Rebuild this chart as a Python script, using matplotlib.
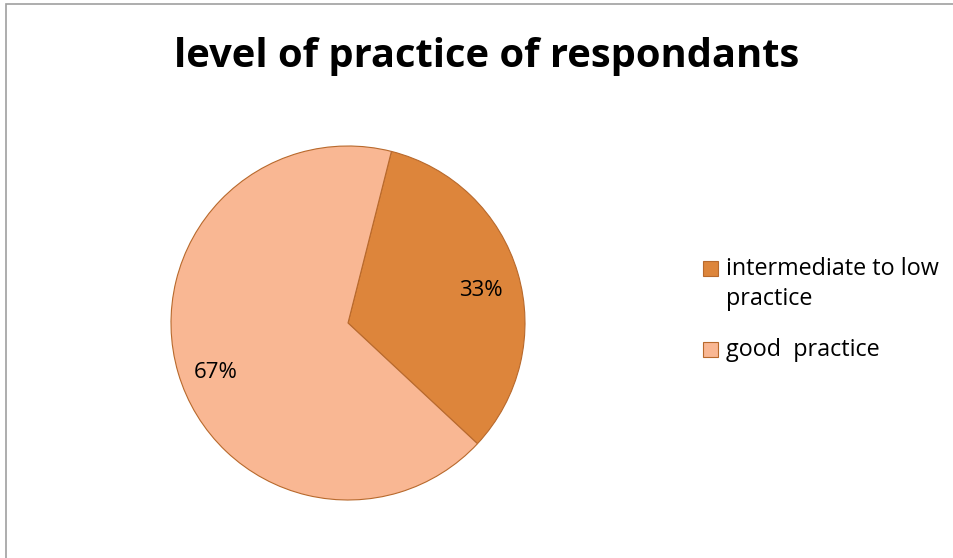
import numpy as np
import matplotlib.pyplot as plt
from matplotlib.patches import Rectangle

categories = ["intermediate to low\npractice", "good  practice"]
shares = [33, 67]
colors = ["#DD853B", "#F9B793"]

W, H = 954, 558
fig = plt.figure(figsize=(W / 100, H / 100), dpi=100)
plt.rcParams["font.family"] = ["Open Sans", "DejaVu Sans"]


def fx(px):
    return px / W


def fy(py):
    return 1 - py / H


# chart frame (cropped on right/bottom in the reference)
fig.patches.append(Rectangle((fx(6), -0.1), 1.2, fy(4) + 0.1, transform=fig.transFigure,
                             fill=False, edgecolor="#A0A0A0", linewidth=1.2))

cx, cy, r = 348, 323, 177
ax = fig.add_axes([fx(cx - r), fy(cy + r), 2 * r / W, 2 * r / H])
wedges, texts, autotexts = ax.pie(
    shares, colors=colors, startangle=75.8, counterclock=False,
    autopct="%1.0f%%", pctdistance=0.78,
    wedgeprops=dict(edgecolor="#B8692C", linewidth=0.8),
    textprops=dict(fontsize=16, color="black"))
ax.set_xlim(-1, 1)
ax.set_ylim(-1, 1)
ax.set_aspect("equal")

# small angular nudge of the % labels, as the spreadsheet placed them
for t, nudge, dist in zip(autotexts, [-2.5, 4.0], [0.775, 0.80]):
    x, y = t.get_position()
    a = np.arctan2(y, x) + np.deg2rad(nudge)
    t.set_position((dist * np.cos(a), dist * np.sin(a)))

fig.text(fx(487), fy(56), "level of practice of respondants", ha="center", va="center",
         fontsize=28.7, fontweight="bold")

# legend: marker aligned with first text line like the spreadsheet original
legend_baselines = [275, 356]
for wedge, label, base in zip(wedges, categories, legend_baselines):
    fig.patches.append(Rectangle((fx(703), fy(base + 1)), 15 / W, 15 / H, transform=fig.transFigure,
                                 facecolor=wedge.get_facecolor(), edgecolor="#B8692C", linewidth=0.8))
    for i, line in enumerate(label.split("\n")):
        fig.text(fx(726), fy(base + 30 * i), line, ha="left", va="baseline", fontsize=16.8)

fig.savefig("out.png", dpi=100)
